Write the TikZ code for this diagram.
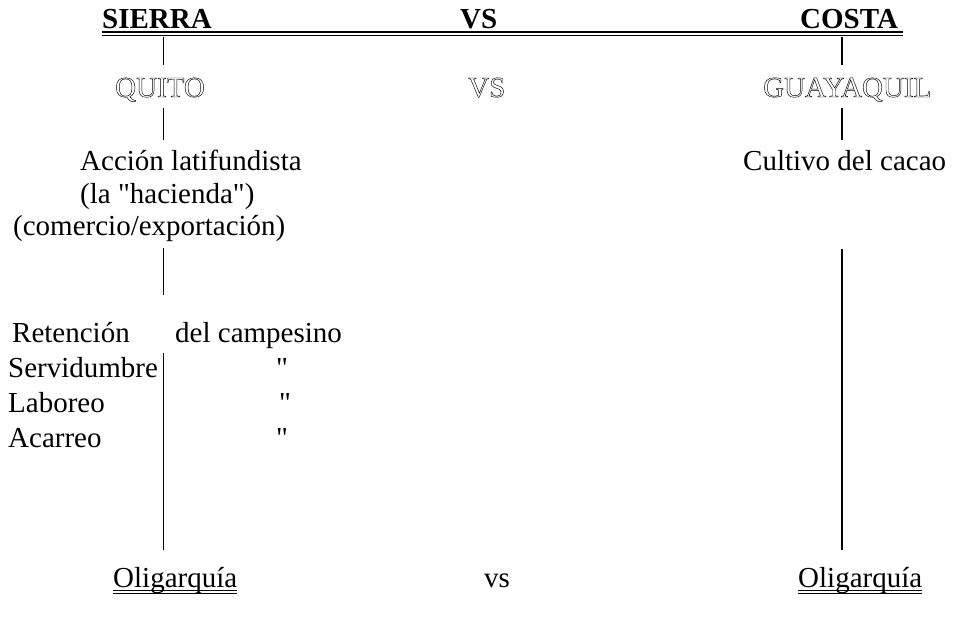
\documentclass[tikz,border=0pt]{standalone}
\usepackage{fontspec}
\setmainfont{Liberation Serif}[Ligatures=TeXOff]
\newcommand{\outl}[1]{\special{pdf:literal direct 1 Tr 0.45 w}#1\special{pdf:literal direct 0 Tr}}
\tikzset{
  txt/.style={inner sep=0pt, anchor=base west, font=\fontsize{29}{33}\selectfont},
  conn/.style={line width=1.4pt},
  dbl/.style={line width=1.3pt},
}
\begin{document}
\begin{tikzpicture}[x=1pt,y=-1pt]
\useasboundingbox (0,0) rectangle (954,624);
% header
\node[txt] (sierra) at (102,28) {\bfseries SIERRA};
\node[txt] (vsh) at (460,28) {\bfseries VS};
\node[txt] (costa) at (800,28) {\bfseries COSTA};
\coordinate (ulA) at (102,32);
\coordinate (ulB) at (903,32);
\coordinate (ulC) at (102,35.2);
\coordinate (ulD) at (903,35.2);
\draw[dbl] (ulA) -- (ulB);
\draw[dbl] (ulC) -- (ulD);
% cities
\node[txt] (quito) at (115,97) {\outl{QUITO}};
\node[txt] (vsm) at (468,97) {\outl{VS}};
\node[txt] (guaya) at (763,97) {\outl{GUAYAQUIL}};
% left column
\node[txt] (accion) at (80,170) {Acción latifundista};
\node[txt] (hac) at (80,203) {(la "hacienda")};
\node[txt] (com) at (13,235) {(comercio/exportación)};
\node[txt] (ret) at (12,342) {Retención};
\node[txt] (camp) at (175,342) {del campesino};
\node[txt] (serv) at (8,377) {Servidumbre};
\node[txt] (lab) at (8,412) {Laboreo};
\node[txt] (aca) at (8,447) {Acarreo};
\node[txt] (d1) at (276,377) {"};
\node[txt] (d2) at (279,412) {"};
\node[txt] (d3) at (276,447) {"};
% right column
\node[txt] (cult) at (743,170) {Cultivo del cacao};
% bottom
\node[txt] (oliL) at (113,587) {Oligarquía};
\node[txt] (vsb) at (484,587) {vs};
\node[txt] (oliR) at (798,587) {Oligarquía};
\draw[line width=1pt] ([yshift=-3pt]oliL.base west) -- ([yshift=-3pt]oliL.base east);
\draw[line width=1pt] ([yshift=-6pt]oliL.base west) -- ([yshift=-6pt]oliL.base east);
\draw[line width=1pt] ([yshift=-3pt]oliR.base west) -- ([yshift=-3pt]oliR.base east);
\draw[line width=1pt] ([yshift=-6pt]oliR.base west) -- ([yshift=-6pt]oliR.base east);
% connectors left
\coordinate (l1a) at (163.5,37);  \coordinate (l1b) at (163.5,65);
\coordinate (l2a) at (163.5,108); \coordinate (l2b) at (163.5,140);
\coordinate (l3a) at (163.5,248); \coordinate (l3b) at (163.5,295);
\coordinate (l4a) at (163.5,353); \coordinate (l4b) at (163.5,550);
\draw[conn] (l1a) -- (l1b);
\draw[conn] (l2a) -- (l2b);
\draw[conn] (l3a) -- (l3b);
\draw[conn] (l4a) -- (l4b);
% connectors right
\coordinate (r1a) at (842,37);  \coordinate (r1b) at (842,65);
\coordinate (r2a) at (842,108); \coordinate (r2b) at (842,140);
\coordinate (r3a) at (842,249); \coordinate (r3b) at (842,550);
\draw[conn] (r1a) -- (r1b);
\draw[conn] (r2a) -- (r2b);
\draw[conn] (r3a) -- (r3b);
\end{tikzpicture}
\end{document}
